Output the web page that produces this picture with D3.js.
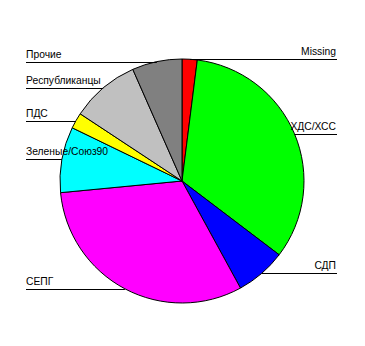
<!DOCTYPE html>
<html>
<head>
<meta charset="utf-8">
<script src="https://cdn.jsdelivr.net/npm/d3@7"></script>
<style>
body{margin:0;background:#fff;}
text{font-family:"Liberation Sans",Arial,sans-serif;font-size:10.3px;fill:#000;}
</style>
</head>
<body>
<div id="chart"></div>
<script>
// party shares, clockwise from 12 o'clock
var parties = ["Missing","ХДС/ХСС","СДП","СЕПГ","Зеленые/Союз90","ПДС","Республиканцы","Прочие"];
var shares = [2.0, 33.3, 6.7, 31.4, 8.7, 2.1, 9.1, 6.6];
var colours = ["#ff0000","#00ff00","#0000ff","#ff00ff","#00ffff","#ffff00","#c0c0c0","#808080"];

var width = 365, height = 346, cx = 182, cy = 181, r = 122;
var leftX = 26, rightX = 337;

var svg = d3.select("#chart").append("svg")
    .attr("width",width)
    .attr("height",height);

var rows = parties.map(function(p,i){return {name:p, value:shares[i], colour:colours[i]};});

var pie = d3.pie().sort(null).value(function(d){return d.value;});
var arc = d3.arc().innerRadius(0).outerRadius(r);
var arcs = pie(rows);

var g = svg.append("g").attr("transform","translate("+cx+","+cy+")");

g.selectAll("path")
    .data(arcs)
    .enter()
    .append("path")
    .attr("d",arc)
    .attr("fill",function(d){return d.data.colour;})
    .attr("stroke","#000")
    .attr("stroke-width",1);

// leader lines: horizontal from the slice middle on the rim out to the label column
function rim(d){
    var a = (d.startAngle + d.endAngle)/2;
    return [cx + r*Math.sin(a), cy - r*Math.cos(a)];
}

arcs.forEach(function(d){
    var p = rim(d);
    var right = p[0] > cx;
    var y = Math.round(p[1]) + 0.5;
    svg.append("line")
        .attr("x1",right ? p[0] : leftX)
        .attr("x2",right ? rightX : p[0])
        .attr("y1",y)
        .attr("y2",y)
        .attr("stroke","#000")
        .attr("stroke-width",1);
    svg.append("text")
        .attr("x",right ? rightX - 1 : leftX)
        .attr("y",y - 5)
        .attr("text-anchor",right ? "end" : "start")
        .text(d.data.name);
});
</script>
</body>
</html>
